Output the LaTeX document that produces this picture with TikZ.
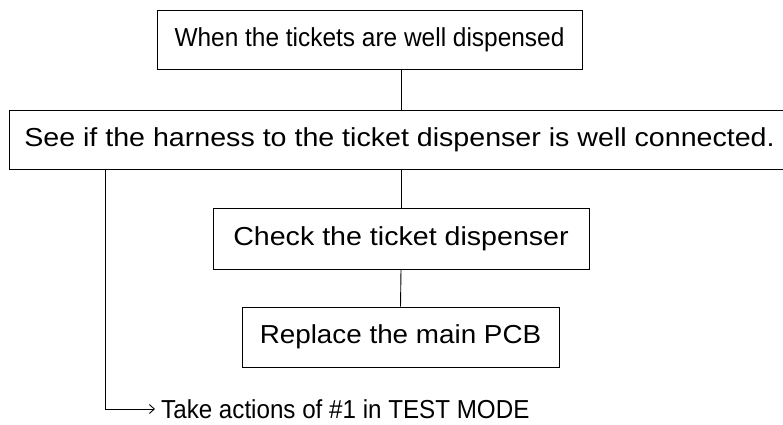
\documentclass[tikz,border=0pt]{standalone}
\usepackage{fontspec}
\setmainfont{Liberation Sans}
\usetikzlibrary{arrows.meta}

\tikzset{
  stepbox/.style={draw, line width=0.9pt, inner sep=0pt, font=\fontsize{26}{30}\selectfont},
  link/.style={line width=0.9pt}
}

\begin{document}
\begin{tikzpicture}[x=1pt,y=-1pt]
\useasboundingbox (0,0) rectangle (783,424);
% boxes
\node[stepbox, minimum width=425pt, minimum height=59pt] (when) at (369.5,39.5) {\scalebox{0.94}[1]{When the tickets are well dispensed}};
\node[stepbox, minimum width=781pt, minimum height=59pt] (harness) at (399.5,139.5) {\scalebox{1.1}[1]{See if the harness to the ticket dispenser is well connected.}};
\node[stepbox, minimum width=376pt, minimum height=61pt] (check) at (401,238.5) {\scalebox{1.1}[1]{Check the ticket dispenser}};
\node[stepbox, minimum width=317pt, minimum height=60pt] (pcb) at (400.5,337) {\scalebox{1.07}[1]{Replace the main PCB}};
\node[font=\fontsize{26}{30}\selectfont, anchor=west, inner sep=0pt] (action) at (161,409) {\scalebox{0.93}[1]{Take actions of \#1 in TEST MODE}};
% connectors
\draw[link] (when.south -| check.north) -- (harness.north -| check.north);
\draw[link] (harness.south -| check.north) -- (check.north);
\draw[link] (check.south) -- (pcb.north);
\coordinate (bend) at (105,409);
\draw[link, -{Straight Barb[length=5pt,width=9pt]}] (harness.south -| bend) -- (bend) -- ([xshift=-6pt]action.west);
\end{tikzpicture}
\end{document}
